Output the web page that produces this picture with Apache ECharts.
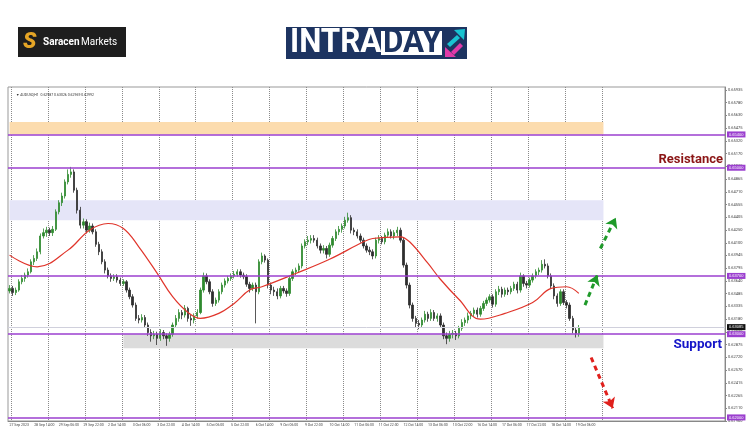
<!DOCTYPE html>
<html><head><meta charset="utf-8">
<script src="https://cdn.jsdelivr.net/npm/echarts@6/dist/echarts.min.js"></script>
<style>html,body{margin:0;padding:0;background:#fff}#c{width:750px;height:430px}</style>
</head><body><div id="c"></div>
<script>
// ---- data ----
const xLabels = ['27 Sep 2023','28 Sep 14:00','29 Sep 06:00','29 Sep 22:00','2 Oct 14:00','3 Oct 06:00','3 Oct 22:00','4 Oct 14:00','5 Oct 06:00','5 Oct 22:00','6 Oct 14:00','9 Oct 06:00','9 Oct 22:00','10 Oct 14:00','11 Oct 06:00','11 Oct 22:00','12 Oct 14:00','13 Oct 06:00','13 Oct 22:00','16 Oct 14:00','17 Oct 06:00','17 Oct 22:00','18 Oct 14:00','19 Oct 06:00'];
const barsPerLabel = 8;
const totalSlots = 233;
const yTickLabels = ['0.61960','0.62110','0.62265','0.62415','0.62570','0.62720','0.62875','0.63030','0.63180','0.63335','0.63485','0.63640','0.63795','0.63945','0.64100','0.64250','0.64405','0.64555','0.64710','0.64865','0.65015','0.65170','0.65320','0.65475','0.65630','0.65780','0.65935'];
const yMin = 0.61957, yMax = 0.65970, yStep = 0.0015297;
const firstOpen = 0.6352;
const closes = [
0.6355,0.6350,0.6353,0.6363,0.6367,0.6371,0.6375,0.6387,
0.6391,0.6399,0.6418,0.6422,0.6425,0.6422,0.6426,0.6447,
0.6458,0.6466,0.6483,0.6492,0.6495,0.6473,0.6449,0.6431,
0.6435,0.6425,0.6430,0.6423,0.6408,0.6399,0.6387,0.6377,
0.6370,0.6367,0.6369,0.6365,0.6361,0.6363,0.6353,0.6345,
0.6335,0.6319,0.6317,0.6320,0.6311,0.6302,0.6298,0.6300,
0.6295,0.6302,0.6298,0.6295,0.6300,0.6311,0.6319,0.6326,
0.6323,0.6331,0.6319,0.6317,0.6322,0.6326,0.6353,0.6370,
0.6363,0.6351,0.6337,0.6341,0.6351,0.6359,0.6364,0.6367,
0.6370,0.6372,0.6375,0.6371,0.6369,0.6360,0.6355,0.6359,
0.6351,0.6387,0.6394,0.6389,0.6359,0.6353,0.6351,0.6346,
0.6355,0.6352,0.6349,0.6367,0.6375,0.6377,0.6382,0.6406,
0.6411,0.6413,0.6415,0.6413,0.6406,0.6401,0.6403,0.6396,
0.6407,0.6415,0.6423,0.6426,0.6430,0.6437,0.6440,0.6425,
0.6423,0.6418,0.6413,0.6406,0.6401,0.6399,0.6394,0.6413,
0.6415,0.6411,0.6419,0.6423,0.6418,0.6422,0.6425,0.6413,
0.6383,0.6359,0.6335,0.6319,0.6313,0.6311,0.6317,0.6324,
0.6319,0.6326,0.6319,0.6322,0.6311,0.6298,0.6295,0.6300,
0.6301,0.6298,0.6307,0.6314,0.6317,0.6322,0.6325,0.6329,
0.6324,0.6331,0.6337,0.6341,0.6345,0.6336,0.6351,0.6354,
0.6348,0.6353,0.6351,0.6355,0.6360,0.6353,0.6370,0.6361,
0.6359,0.6365,0.6370,0.6375,0.6377,0.6384,0.6382,0.6370,
0.6358,0.6346,0.6337,0.6351,0.6338,0.6335,0.6319,0.6305,
0.6301,0.6308];
const highs = [
0.6359,0.6358,0.6356,0.6366,0.6371,0.6374,0.6379,0.6390,
0.6395,0.6403,0.6421,0.6427,0.6429,0.6428,0.6430,0.6450,
0.6461,0.6470,0.6486,0.6498,0.6501,0.6498,0.6476,0.6453,
0.6439,0.6438,0.6434,0.6433,0.6426,0.6411,0.6402,0.6390,
0.6380,0.6373,0.6372,0.6372,0.6368,0.6366,0.6365,0.6356,
0.6348,0.6338,0.6323,0.6324,0.6323,0.6314,0.6306,0.6304,
0.6303,0.6306,0.6305,0.6301,0.6303,0.6314,0.6323,0.6330,
0.6329,0.6335,0.6333,0.6323,0.6325,0.6330,0.6356,0.6374,
0.6373,0.6366,0.6354,0.6344,0.6354,0.6362,0.6367,0.6370,
0.6373,0.6376,0.6378,0.6378,0.6374,0.6372,0.6363,0.6362,
0.6362,0.6390,0.6398,0.6396,0.6391,0.6362,0.6357,0.6355,
0.6358,0.6358,0.6355,0.6370,0.6378,0.6380,0.6385,0.6409,
0.6414,0.6418,0.6419,0.6419,0.6416,0.6409,0.6407,0.6406,
0.6410,0.6418,0.6426,0.6430,0.6433,0.6441,0.6446,0.6443,
0.6428,0.6426,0.6421,0.6416,0.6409,0.6405,0.6402,0.6416,
0.6419,0.6418,0.6422,0.6427,0.6426,0.6425,0.6429,0.6428,
0.6416,0.6386,0.6362,0.6338,0.6322,0.6317,0.6320,0.6328,
0.6327,0.6330,0.6329,0.6325,0.6325,0.6314,0.6302,0.6304,
0.6305,0.6304,0.6310,0.6318,0.6320,0.6326,0.6328,0.6332,
0.6332,0.6334,0.6340,0.6344,0.6348,0.6348,0.6354,0.6358,
0.6357,0.6356,0.6356,0.6358,0.6363,0.6363,0.6374,0.6372,
0.6364,0.6368,0.6373,0.6378,0.6380,0.6389,0.6390,0.6385,
0.6373,0.6361,0.6349,0.6354,0.6354,0.6341,0.6338,0.6322,
0.6308,0.6311];
const lows = [
0.6349,0.6346,0.6347,0.6351,0.6360,0.6363,0.6368,0.6373,
0.6383,0.6388,0.6396,0.6415,0.6417,0.6418,0.6418,0.6424,
0.6444,0.6454,0.6463,0.6480,0.6488,0.6470,0.6445,0.6427,
0.6427,0.6421,0.6422,0.6420,0.6405,0.6395,0.6384,0.6373,
0.6367,0.6363,0.6364,0.6362,0.6358,0.6358,0.6350,0.6342,
0.6332,0.6316,0.6313,0.6314,0.6308,0.6298,0.6291,0.6294,
0.6287,0.6292,0.6294,0.6286,0.6291,0.6297,0.6308,0.6315,
0.6318,0.6320,0.6315,0.6310,0.6313,0.6319,0.6324,0.6350,
0.6360,0.6348,0.6333,0.6334,0.6338,0.6348,0.6356,0.6361,
0.6364,0.6367,0.6369,0.6368,0.6366,0.6357,0.6350,0.6352,
0.6313,0.6348,0.6384,0.6386,0.6355,0.6348,0.6346,0.6342,
0.6343,0.6349,0.6345,0.6346,0.6364,0.6371,0.6374,0.6379,
0.6403,0.6407,0.6409,0.6410,0.6403,0.6397,0.6397,0.6391,
0.6393,0.6404,0.6412,0.6419,0.6422,0.6427,0.6434,0.6421,
0.6419,0.6415,0.6410,0.6403,0.6398,0.6395,0.6390,0.6391,
0.6409,0.6408,0.6408,0.6416,0.6415,0.6414,0.6418,0.6410,
0.6380,0.6355,0.6331,0.6315,0.6308,0.6306,0.6308,0.6314,
0.6315,0.6316,0.6316,0.6315,0.6308,0.6294,0.6288,0.6291,
0.6295,0.6293,0.6295,0.6304,0.6310,0.6313,0.6318,0.6321,
0.6320,0.6321,0.6328,0.6334,0.6338,0.6332,0.6333,0.6347,
0.6344,0.6345,0.6347,0.6348,0.6352,0.6349,0.6350,0.6357,
0.6355,0.6356,0.6362,0.6367,0.6371,0.6374,0.6379,0.6367,
0.6355,0.6342,0.6333,0.6334,0.6335,0.6331,0.6316,0.6301,
0.6296,0.6297];
// moving average read at bar positions [barIndex, price]
const maPoints = [[0,0.6395],[9,0.6381],[19,0.6401],[26,0.6425],[32,0.6433],[37,0.6427],[42,0.6405],[48,0.6373],[53,0.6345],[58,0.6326],[62,0.6319],[68,0.6325],[73,0.6337],[78,0.6353],[82,0.6357],[93,0.6373],[104,0.6390],[115,0.6411],[118,0.6415],[127,0.6417],[130,0.6411],[136,0.6385],[140,0.6366],[146,0.6342],[153,0.6318],[161,0.6325],[170,0.6338],[176,0.6355],[181,0.6357],[185,0.6349]];
const levels = [0.6540, 0.6500, 0.6370, 0.6300, 0.6200];
const resistanceLevel = 0.6500, supportLevel = 0.6300;
const bidPrice = 0.63085;
const zoneOrange = [0.6540, 0.6555];
const zoneLavender = [0.6437, 0.6461];
const zoneGrey = [0.6283, 0.6300];
const zoneStartBars = [0, 0, 37];
const zoneEndBar = 193;
const arrowUp1 = [[187, 0.6335], [191, 0.6371]];
const arrowUp2 = [[192, 0.6403], [197, 0.6440]];
const arrowDown = [[189, 0.6272], [196, 0.6211]];
const headerText = '\u25BC AUDUSD,H1  0.62987 0.63026 0.62969 0.62992';

// ---- build ----
const categories = [];
for (let k = 0; k < totalSlots; k++) categories.push(String(k));
const candles = closes.map((c, i) => [i === 0 ? firstOpen : closes[i - 1], c, lows[i], highs[i]]);

const PURPLE = '#9b3fcf';
const levelLines = levels.map(v => ({
  yAxis: v,
  lineStyle: { color: PURPLE, width: 1.5, type: 'solid' },
  label: { show: true, position: 'end', formatter: v.toFixed(5), backgroundColor: PURPLE, color: '#fff', fontSize: 4, padding: [1, 2], distance: 2 }
}));
const arrow = (pts, color) => [
  { coord: pts[0], symbol: 'none', lineStyle: { color, width: 3, type: [5, 4] } },
  { coord: pts[1], symbol: 'arrow', symbolSize: 10, itemStyle: { color } }
];

const chart = echarts.init(document.getElementById('c'), null, { renderer: 'canvas' });
chart.setOption({
  animation: false,
  backgroundColor: '#ffffff',
  title: { text: headerText, left: 11, top: 88, textStyle: { fontSize: 3.5, color: '#333', fontWeight: 'normal', fontFamily: 'Roboto' } },
  grid: { left: 8, right: 25, top: 87, bottom: 9, show: true, borderColor: '#999', borderWidth: 1 },
  xAxis: {
    type: 'category', data: categories, boundaryGap: true,
    axisLine: { lineStyle: { color: '#888' } },
    axisTick: { show: false },
    axisLabel: { interval: barsPerLabel - 1, fontSize: 3.5, color: '#444', align: 'left', margin: 2, fontFamily: 'Roboto',
      formatter: (v, i) => { const n = Number(v); return n % barsPerLabel === 0 ? (xLabels[n / barsPerLabel] || '') : ''; } },
    splitLine: { show: true, interval: (i) => i % 12 === 1 && i <= zoneEndBar, lineStyle: { type: 'dotted', color: '#8a8a8a', width: 1 } }
  },
  yAxis: {
    type: 'value', position: 'right', min: yMin, max: yMax, interval: yStep, scale: true,
    axisLine: { show: true, lineStyle: { color: '#888' } },
    axisTick: { show: true, length: 2, lineStyle: { color: '#888' } },
    axisLabel: { fontSize: 4, color: '#444', margin: 3, showMaxLabel: false, fontFamily: 'Roboto',
      formatter: (v, i) => (yTickLabels[i] !== undefined ? yTickLabels[i] : '') },
    splitLine: { show: false }
  },
  graphic: [
    { type: 'rect', shape: { x: 18, y: 27, width: 108, height: 30 }, style: { fill: '#1e1e1e' } },
    { type: 'text', x: 23, y: 42, style: { text: 'S', fill: '#e5a526', font: 'italic 900 22px Roboto', verticalAlign: 'middle' } },
    { type: 'text', x: 43, y: 42.5, style: { text: 'Saracen', fill: '#fff', font: 'bold 10px Roboto', verticalAlign: 'middle' } },
    { type: 'text', x: 81, y: 42.5, style: { text: 'Markets', fill: '#fff', font: '10px Roboto', verticalAlign: 'middle' } },
    { type: 'rect', shape: { x: 286, y: 27, width: 181, height: 32 }, style: { fill: '#1d3461' } },
    { type: 'text', x: 290, y: 44, scaleX: 0.95, style: { text: 'INTRA', fill: '#fff', font: 'bold 33px Roboto', verticalAlign: 'middle' } },
    { type: 'rect', shape: { x: 381, y: 31, width: 61, height: 24 }, style: { fill: '#fff' } },
    { type: 'text', x: 383, y: 44, scaleX: 0.95, style: { text: 'DAY', fill: '#1d3461', font: 'bold 33px Roboto', verticalAlign: 'middle' } },
    { type: 'polygon', shape: { points: [[447, 44], [457, 35], [460, 38], [450, 47]] }, style: { fill: '#19c3d1' } },
    { type: 'polygon', shape: { points: [[454, 30], [465, 29], [464, 40]] }, style: { fill: '#19c3d1' } },
    { type: 'polygon', shape: { points: [[451, 52], [460, 43], [463, 46], [454, 55]] }, style: { fill: '#e03aa8' } },
    { type: 'polygon', shape: { points: [[445, 47], [445, 57], [456, 57]] }, style: { fill: '#e03aa8' } }
  ],
  series: [
    {
      name: 'zones', type: 'line', data: [], z: 1, silent: true,
      markArea: { silent: true, data: [
        [{ coord: [zoneStartBars[0], zoneOrange[1]], itemStyle: { color: '#fcdcae' } }, { coord: [zoneEndBar, zoneOrange[0]] }],
        [{ coord: [zoneStartBars[1], zoneLavender[1]], itemStyle: { color: '#e5e5f8' } }, { coord: [zoneEndBar, zoneLavender[0]] }],
        [{ coord: [zoneStartBars[2], zoneGrey[1]], itemStyle: { color: '#dcdcdc' } }, { coord: [zoneEndBar, zoneGrey[0]] }]
      ] }
    },
    {
      name: 'AUDUSD', type: 'candlestick', data: candles, z: 3, barWidth: '60%',
      itemStyle: { color: '#2f8a2f', color0: '#2e2e2e', borderColor: '#2f8a2f', borderColor0: '#2e2e2e', borderWidth: 0.8 }
    },
    {
      name: 'MA', type: 'line', data: maPoints, z: 4, smooth: 0.4, showSymbol: false, silent: true,
      lineStyle: { color: '#e0352b', width: 1.2 }
    },
    {
      name: 'levels', type: 'line', data: [], z: 5, silent: true,
      markLine: { silent: true, symbol: 'none', animation: false, precision: 5, data: [
        { yAxis: bidPrice, lineStyle: { color: '#d0d0dc', width: 1, type: 'solid' },
          label: { show: true, position: 'end', formatter: bidPrice.toFixed(5), backgroundColor: '#111', color: '#fff', fontSize: 4, padding: [1, 2], distance: 2 } },
        ...levelLines,
        { yAxis: resistanceLevel, lineStyle: { color: 'rgba(0,0,0,0)', width: 0 },
          label: { show: true, opacity: 1, position: 'insideEndTop', formatter: 'Resistance', color: '#8b1515', fontSize: 13, fontWeight: 'bold', fontFamily: 'Roboto', distance: [2, 1] } },
        { yAxis: supportLevel, lineStyle: { color: 'rgba(0,0,0,0)', width: 0 },
          label: { show: true, opacity: 1, position: 'insideEndBottom', formatter: 'Support', color: '#1414c8', fontSize: 13.5, fontWeight: 'bold', fontFamily: 'Roboto', distance: [3, 3] } },
        arrow(arrowUp1, '#1f9a2a'),
        arrow(arrowUp2, '#1f9a2a'),
        arrow(arrowDown, '#e0201c')
      ] }
    }
  ]
});
</script></body></html>
